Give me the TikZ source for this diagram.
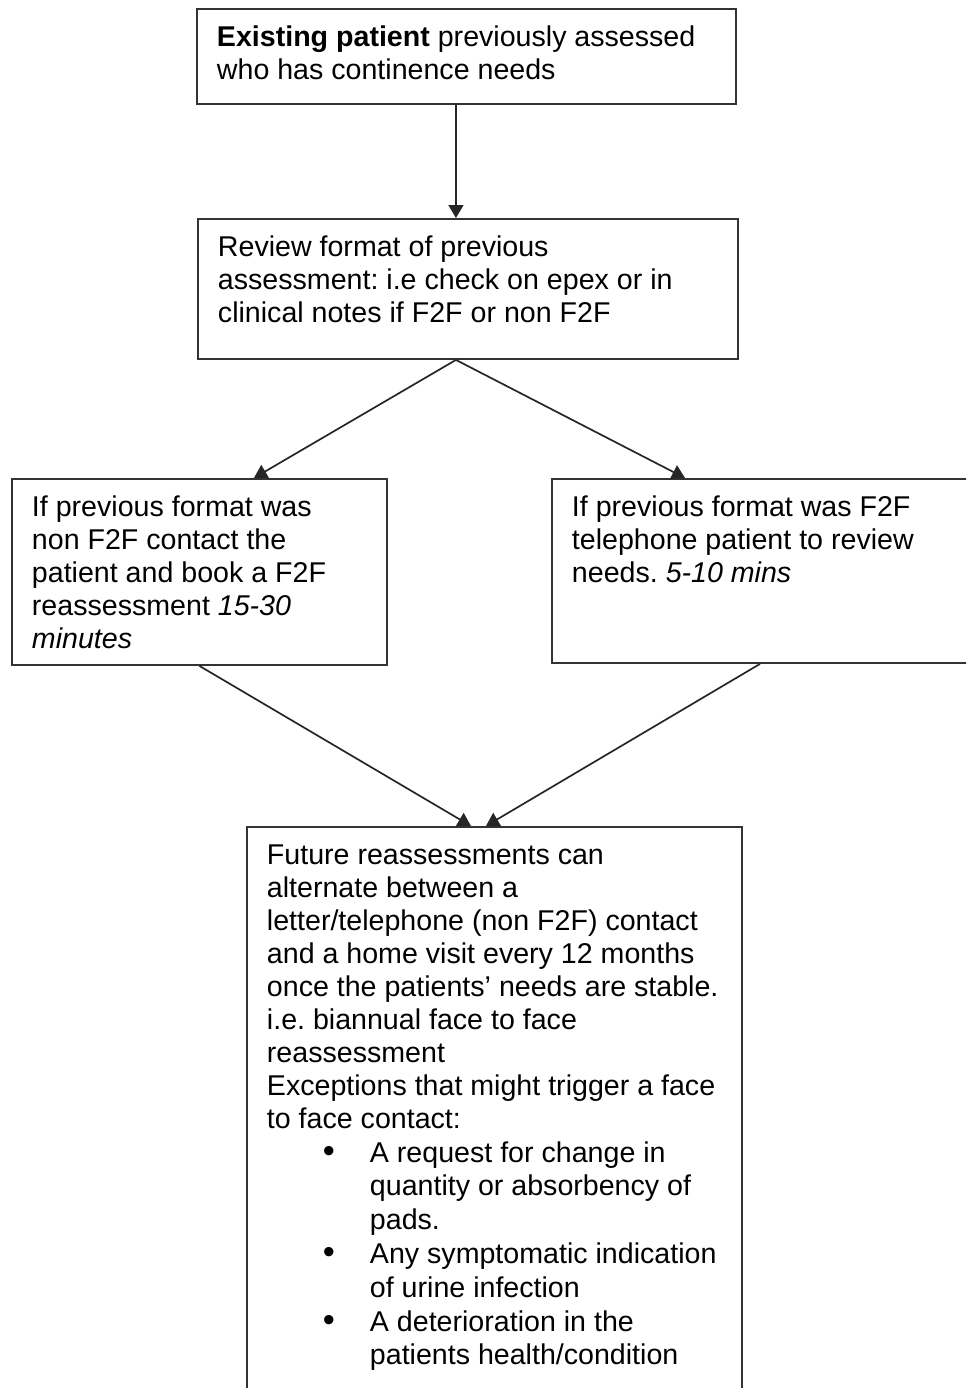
\documentclass[tikz,border=0pt]{standalone}
\usepackage{fontspec}
\setmainfont{Liberation Sans}
\usetikzlibrary{arrows.meta}
\frenchspacing
\newcommand{\bulmark}{\hspace*{28pt}\makebox[23.5pt][l]{\scalebox{1.2}{\textbullet}}}
\newcommand{\bulind}{\hspace*{51.5pt}}
\newcommand{\boxbody}[3]{\makebox[#1][l]{\parbox[c][#2][t]{\dimexpr#1+30pt\relax}{\raggedright\strut #3}}}

\begin{document}
\begin{tikzpicture}[
    x=0.5pt, y=-0.5pt,
    font=\fontsize{14.3pt}{16.5pt}\selectfont,
    stepbox/.style={draw=black!80, line width=0.95pt, anchor=north west, inner xsep=10pt, inner ysep=7pt},
    flow/.style={line width=0.85pt, draw=black!85, -{Triangle[length=6.5pt, width=7.5pt]}}
]
\useasboundingbox (0,0) rectangle (966,1388);
\clip (0,0) rectangle (966,1388);

% Cajas del diagrama
\node[stepbox] (existing) at (196,8) {\boxbody{249.5pt}{33.5pt}{%
    \textbf{Existing patient} previously assessed\\
    who has continence needs}};

\node[stepbox] (review) at (197,218) {\boxbody{250pt}{56pt}{%
    Review format of previous\\
    assessment: i.e check on epex or in\\
    clinical notes if F2F or non F2F}};

\node[stepbox] (nonftf) at (11,478) {\boxbody{167.5pt}{79pt}{%
    If previous format was\\
    non F2F contact the\\
    patient and book a F2F\\
    reassessment \textit{15-30}\\
    \textit{minutes}}};

\node[stepbox] (ftf) at (551,478) {\boxbody{210pt}{78pt}{%
    If previous format was F2F\\
    telephone patient to review\\
    needs. \textit{5-10 mins}}};

\node[stepbox] (future) at (246,826) {\boxbody{227.5pt}{286pt}{%
    Future reassessments can\\
    alternate between a\\
    letter/telephone (non F2F) contact\\
    and a home visit every 12 months\\
    once the patients' needs are stable.\\
    i.e. biannual face to face\\
    reassessment\\
    Exceptions that might trigger a face\\
    to face contact:\\[0.5pt]
    \bulmark A request for change in\\[0.4pt]
    \bulind quantity or absorbency of\\[0.4pt]
    \bulind pads.\\[0.4pt]
    \bulmark Any symptomatic indication\\[0.4pt]
    \bulind of urine infection\\[0.4pt]
    \bulmark A deterioration in the\\[0.4pt]
    \bulind patients health/condition}};

% Flechas
\draw[flow] ([xshift=-6pt]review.north |- existing.south) -- ([xshift=-6pt]review.north);
\draw[flow] ([xshift=-6pt]review.south) -- ([xshift=27.25pt]nonftf.north);
\draw[flow] ([xshift=-6pt]review.south) -- ([xshift=67pt]ftf.north west);
\draw[flow] (nonftf.south) -- ([xshift=-11.75pt]future.north);
\draw[flow] ([xshift=104.5pt]ftf.south west) -- ([xshift=-4.25pt]future.north);

\end{tikzpicture}
\end{document}
